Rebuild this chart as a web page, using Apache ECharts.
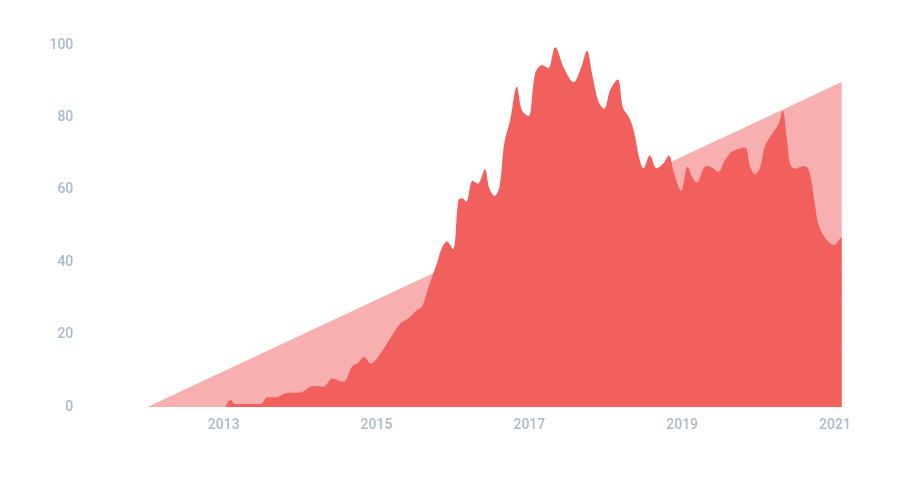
<!DOCTYPE html>
<html>
<head>
<meta charset="utf-8">
<script src="https://cdn.jsdelivr.net/npm/echarts@6/dist/echarts.min.js"></script>
<style>
html,body{margin:0;padding:0;background:#ffffff;}
#chart{width:900px;height:478px;}
</style>
</head>
<body>
<div id="chart"></div>
<script>
// Reference triangle (linear trend)
var trendYears = [2012.0, 2021.088];
var trendValues = [0, 89.8];

// Main series (decimal year, value)
var mainYears = [
  2013.022, 2013.088, 2013.153, 2013.480, 2013.572, 2013.676, 2013.832, 2014.003,
  2014.173, 2014.304, 2014.421, 2014.564, 2014.679, 2014.749, 2014.836, 2014.925,
  2015.050, 2015.180, 2015.311, 2015.420, 2015.529, 2015.595, 2015.681, 2015.791,
  2015.847, 2015.922, 2016.000, 2016.073, 2016.122, 2016.174, 2016.257, 2016.325,
  2016.419, 2016.475, 2016.547, 2016.610, 2016.671, 2016.750, 2016.837, 2016.903,
  2016.989, 2017.077, 2017.168, 2017.247, 2017.338, 2017.456, 2017.578, 2017.678,
  2017.753, 2017.829, 2017.905, 2017.979, 2018.058, 2018.156, 2018.228, 2018.306,
  2018.371, 2018.437, 2018.493, 2018.576, 2018.668, 2018.755, 2018.825, 2018.895,
  2018.986, 2019.071, 2019.130, 2019.191, 2019.278, 2019.326, 2019.409, 2019.474,
  2019.562, 2019.649, 2019.736, 2019.823, 2019.889, 2019.954, 2020.023, 2020.085,
  2020.193, 2020.264, 2020.316, 2020.368, 2020.412, 2020.477, 2020.543, 2020.608,
  2020.667, 2020.726, 2020.778, 2020.857, 2020.984, 2021.066, 2021.088
];
var mainValues = [
  0, 1.9, 0.8, 0.8, 2.7, 2.7, 3.9, 4.0,
  5.8, 5.6, 7.9, 7.0, 11.2, 12.0, 13.8, 12.0,
  14.8, 19.0, 23.1, 24.5, 26.8, 27.7, 33.2, 39.7,
  43.5, 45.7, 43.6, 57.2, 57.7, 56.7, 62.5, 61.7,
  65.7, 60.5, 58.3, 60.9, 72.8, 79.3, 88.5, 82.0,
  80.4, 92.2, 94.5, 93.6, 99.4, 93.5, 89.7, 93.8,
  98.4, 91.2, 84.3, 82.4, 87.6, 90.5, 82.5, 80.0,
  76.0, 68.9, 65.9, 69.5, 65.9, 67.3, 69.5, 64.5,
  59.7, 66.4, 63.6, 62.0, 65.9, 66.6, 65.9, 65.0,
  68.2, 70.5, 71.3, 71.7, 66.6, 64.3, 66.4, 72.2,
  75.9, 78.3, 81.9, 74.5, 67.1, 65.8, 66.3, 66.5,
  64.8, 57.5, 51.0, 47.2, 44.8, 46.5, 47.0
];

var yTicks = [0, 20, 40, 60, 80, 100];
var xLabelYears = [2013, 2015, 2017, 2019, 2021];

function zip(xs, ys) { return xs.map(function (x, i) { return [x, ys[i]]; }); }

var labelStyle = { color: '#acb9c9', fontFamily: 'Roboto', fontWeight: 500, fontSize: 14 };

var chart = echarts.init(document.getElementById('chart'), null, { renderer: 'canvas' });
chart.setOption({
  backgroundColor: '#ffffff',
  animation: false,
  grid: { left: 147.3, right: 58.3, top: 45, bottom: 71 },
  xAxis: {
    type: 'value',
    min: 2012,
    max: 2021.088,
    interval: 1,
    axisLine: { show: false },
    axisTick: { show: false },
    splitLine: { show: false },
    axisLabel: Object.assign({
      margin: 11,
      showMinLabel: true,
      showMaxLabel: true,
      formatter: function (v) {
        return xLabelYears.indexOf(Math.round(v * 1000) / 1000) >= 0 ? String(v) : '';
      }
    }, labelStyle)
  },
  yAxis: {
    type: 'value',
    min: yTicks[0],
    max: yTicks[yTicks.length - 1],
    interval: 20,
    axisLine: { show: false },
    axisTick: { show: false },
    splitLine: { show: false },
    axisLabel: Object.assign({ margin: 74 }, labelStyle)
  },
  series: [
    {
      type: 'line',
      data: zip(trendYears, trendValues),
      symbol: 'none',
      lineStyle: { width: 0 },
      areaStyle: { color: '#f8afaf', opacity: 1 },
      z: 1
    },
    {
      type: 'line',
      data: zip(mainYears, mainValues),
      symbol: 'none',
      smooth: 0.35,
      lineStyle: { width: 0 },
      areaStyle: { color: '#f2605d', opacity: 1 },
      z: 2
    }
  ]
});
</script>
</body>
</html>
